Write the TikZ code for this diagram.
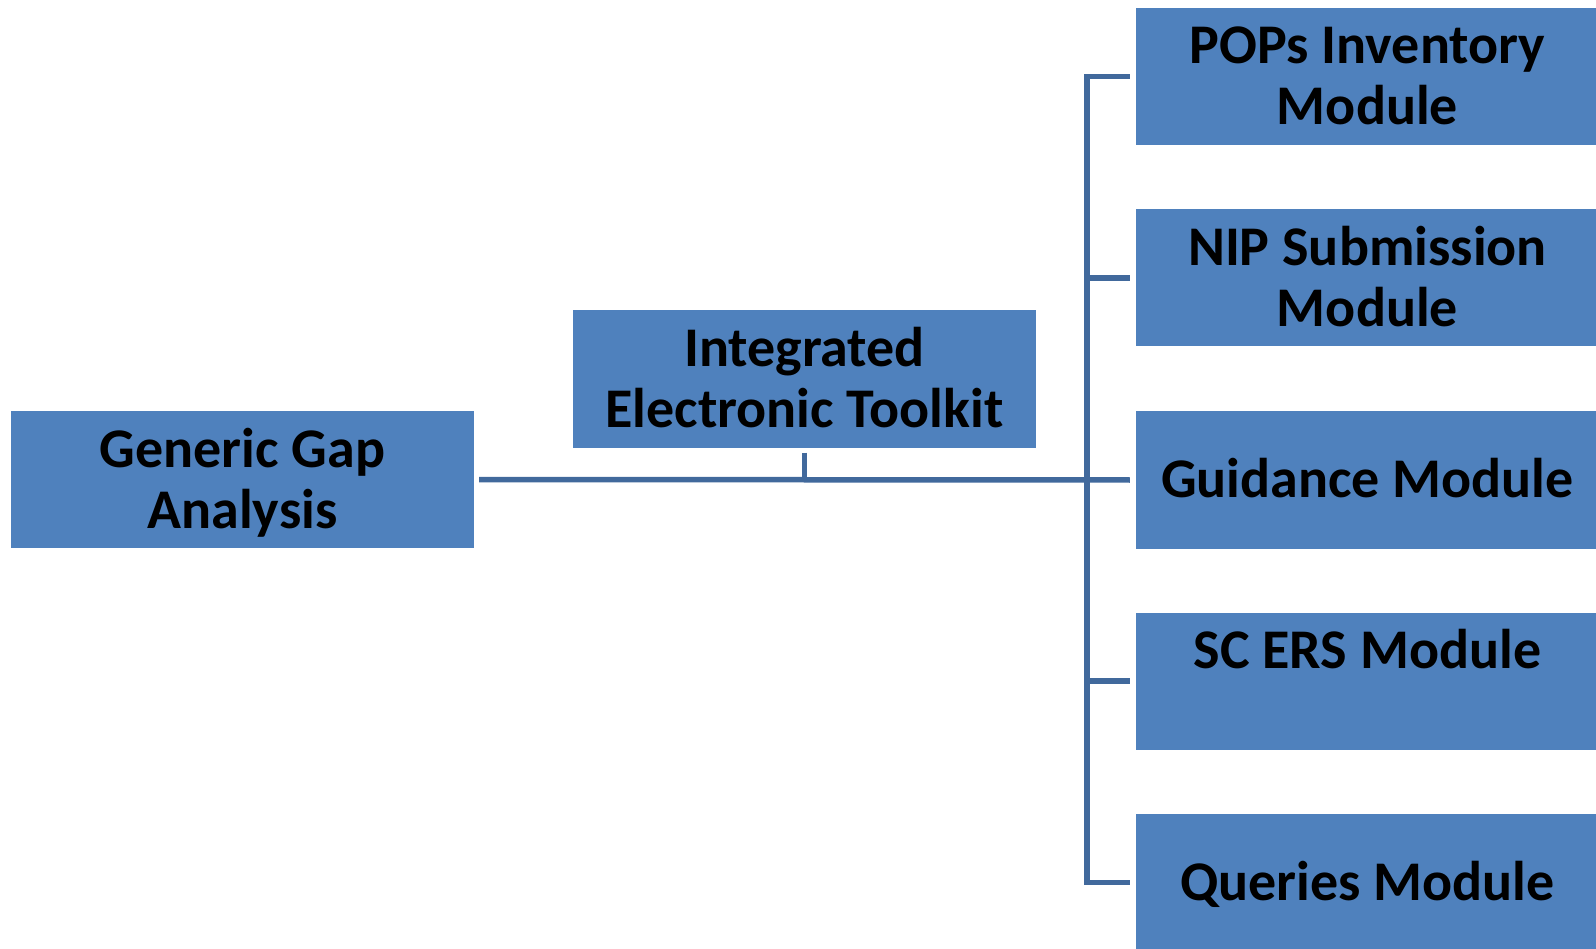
\documentclass[tikz,border=0pt]{standalone}
\usepackage{fontspec}
\setmainfont{Carlito}
\definecolor{boxblue}{HTML}{4F81BD}
\definecolor{lineblue}{HTML}{41699C}
\newcommand{\shiftt}[2]{\raisebox{#1}[\height][\depth]{\parbox{463pt}{\centering #2}}}
\begin{document}
\begin{tikzpicture}[x=1pt,y=-1pt,
  box/.style={fill=boxblue, minimum width=463pt, minimum height=137pt, inner sep=0pt,
    font=\fontsize{56}{61}\selectfont\bfseries, align=center, text=black},
  conn/.style={draw=lineblue, line width=5.5pt}]
\useasboundingbox (0,0) rectangle (1596,949);
\clip (0,0) rectangle (1596,949);
\node[box] (gga) at (242.5,479.5) {\shiftt{-3pt}{Generic Gap\\Analysis}};
\node[box] (iet) at (804.5,379) {\shiftt{1pt}{Integrated\\Electronic Toolkit}};
\node[box] (pops) at (1367.5,76.5) {\shiftt{1pt}{POPs Inventory\\Module}};
\node[box] (nip) at (1367.5,278) {\shiftt{1pt}{NIP Submission\\Module}};
\node[box] (guid) at (1367.5,480) {\shiftt{2pt}{Guidance Module}};
\node[box] (scers) at (1367.5,681) {\shiftt{-8pt}{SC ERS Module\\\strut}};
\node[box] (quer) at (1367.5,882.5) {\shiftt{-2pt}{Queries Module}};
\coordinate (trunk) at (1087,0);
\draw[conn] ([xshift=-6pt]pops.west) -- (pops.west -| trunk) -- (quer.west -| trunk) -- ([xshift=-6pt]quer.west);
\draw[conn] ([xshift=-6pt]nip.west) -- (nip.west -| trunk);
\draw[conn] ([xshift=-6pt]scers.west) -- (scers.west -| trunk);
\draw[conn] ([xshift=5pt]gga.east) -- ([xshift=-6pt]guid.west);
\draw[conn] ([yshift=-5pt]iet.south) -- (iet.south |- guid.west);
\end{tikzpicture}
\end{document}
